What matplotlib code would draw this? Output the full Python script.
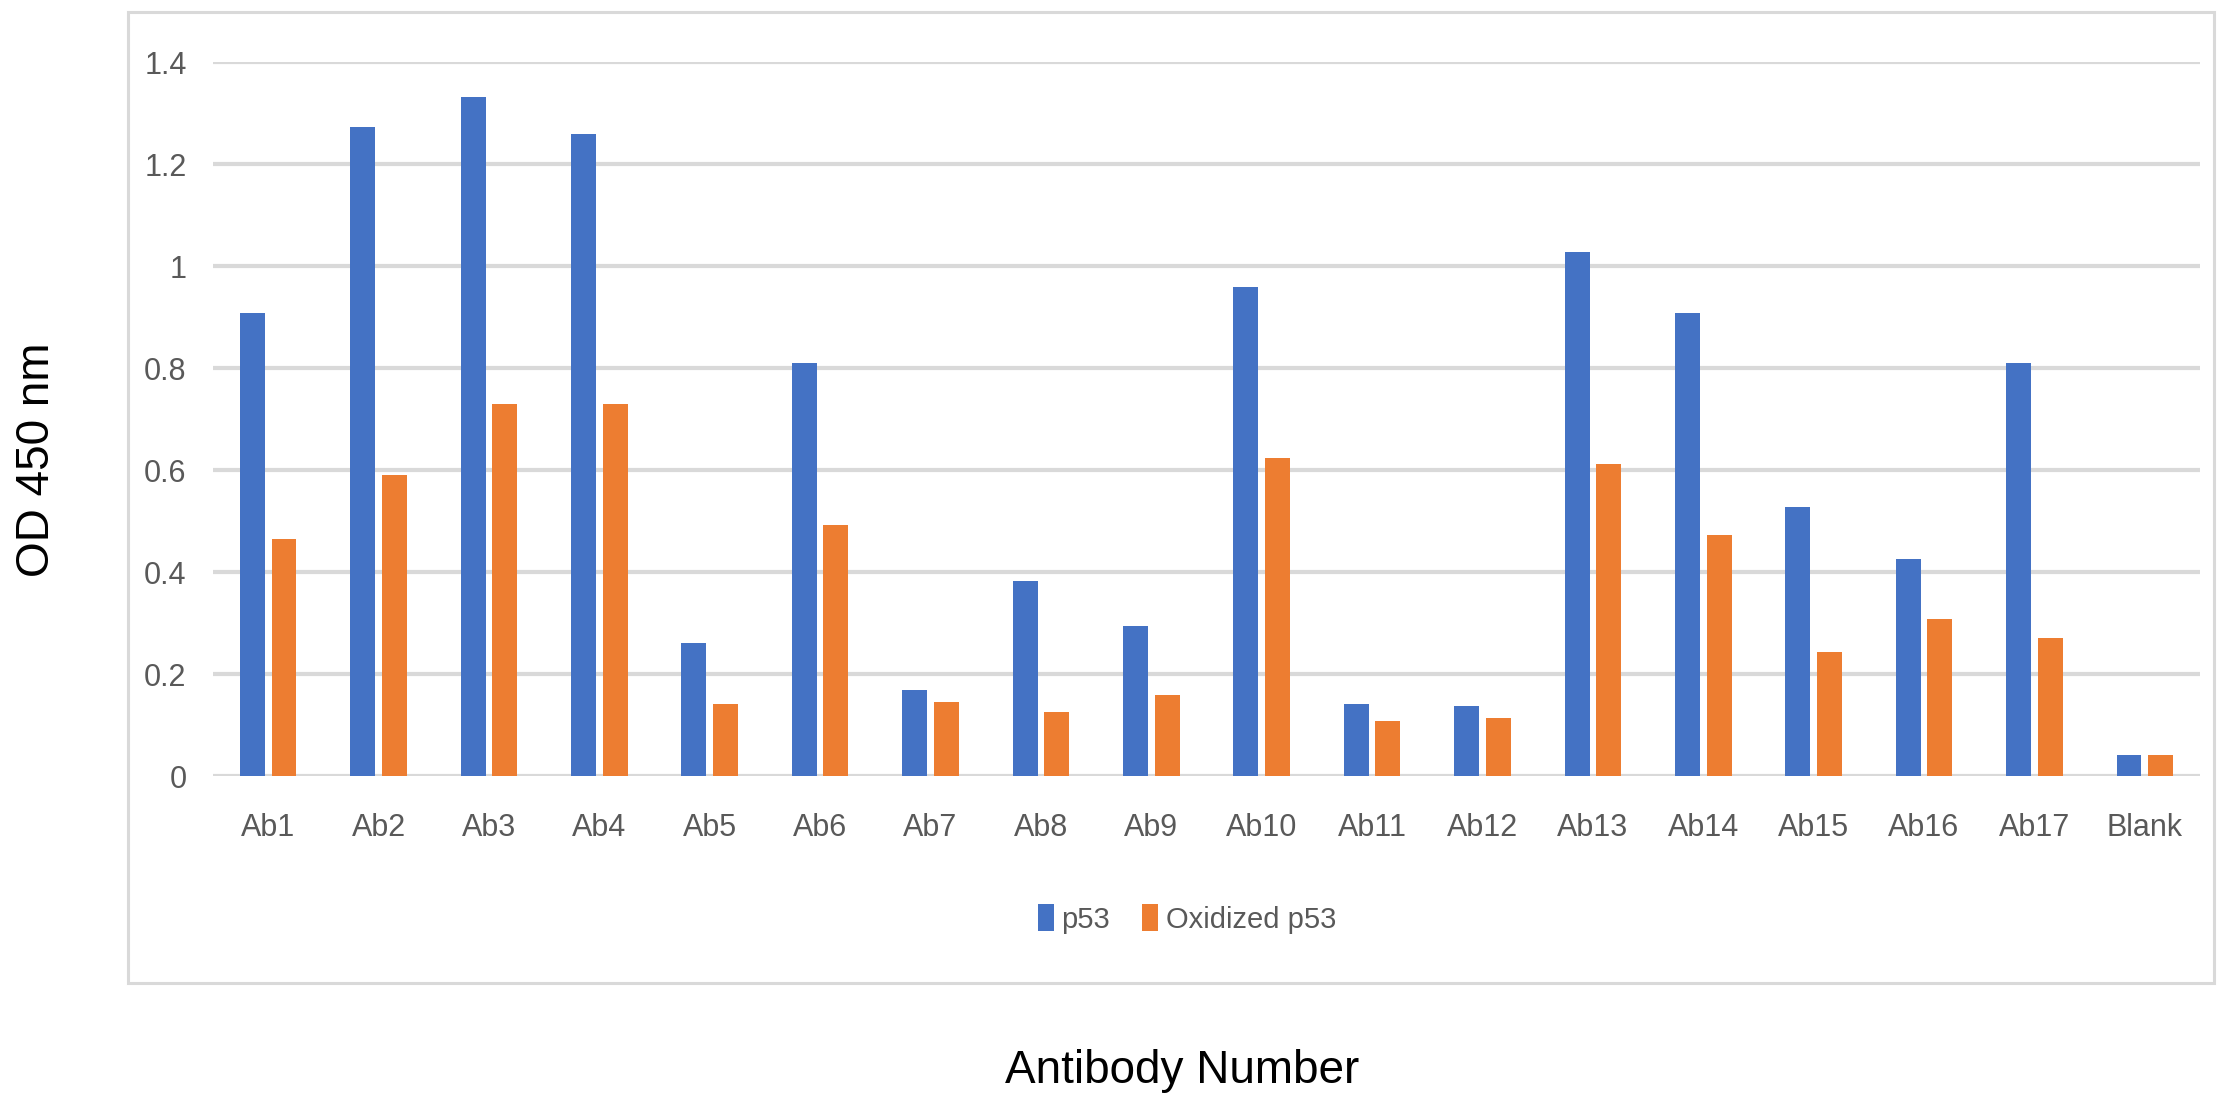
import matplotlib
matplotlib.use("Agg")
from matplotlib import pyplot as plt
from matplotlib import font_manager
from matplotlib.patches import Rectangle
import numpy as np

antibodies = ["Ab1", "Ab2", "Ab3", "Ab4", "Ab5", "Ab6", "Ab7", "Ab8", "Ab9",
              "Ab10", "Ab11", "Ab12", "Ab13", "Ab14", "Ab15", "Ab16", "Ab17", "Blank"]
p53 = [0.908, 1.272, 1.332, 1.259, 0.261, 0.81, 0.168, 0.383, 0.295,
       0.958, 0.142, 0.137, 1.027, 0.908, 0.527, 0.425, 0.81, 0.041]
oxidized_p53 = [0.465, 0.59, 0.73, 0.73, 0.142, 0.493, 0.146, 0.125, 0.159,
                0.624, 0.108, 0.113, 0.612, 0.472, 0.244, 0.307, 0.27, 0.041]
yticks = [0, 0.2, 0.4, 0.6, 0.8, 1, 1.2, 1.4]
ytick_labels = ["0", "0.2", "0.4", "0.6", "0.8", "1", "1.2", "1.4"]

names = {f.name for f in font_manager.fontManager.ttflist}
small_font = "Liberation Sans Narrow" if "Liberation Sans Narrow" in names else "Liberation Sans"
small_size = 25 if small_font == "Liberation Sans Narrow" else 22
big_font = "Liberation Sans"

fig = plt.figure(figsize=(22.18, 10.98), dpi=100)
# outer chart border
fig.patches.append(Rectangle((128 / 2218, 1 - 983 / 1098), (2214 - 128) / 2218, (983 - 12) / 1098,
                             transform=fig.transFigure, fill=False, edgecolor="#D9D9D9", linewidth=2.2))

ax = fig.add_axes([213 / 2218, 1 - 776 / 1098, 1987 / 2218, (776 - 62) / 1098])
x = np.arange(len(antibodies))
w = 0.226
gap = 0.06
ax.bar(x - (w + gap) / 2, p53, w, color="#4472C4", label="p53", zorder=3)
ax.bar(x + (w + gap) / 2, oxidized_p53, w, color="#ED7D31", label="Oxidized p53", zorder=3)

ax.set_xlim(-0.5, len(antibodies) - 0.5)
ax.set_ylim(0, 1.4)
ax.set_yticks(yticks)
ax.set_yticklabels(ytick_labels)
ax.set_xticks(x)
ax.set_xticklabels(antibodies)
ax.yaxis.grid(True, color="#D9D9D9", linewidth=3, zorder=0)
ax.set_axisbelow(True)
for s in ax.spines.values():
    s.set_visible(False)
ax.tick_params(axis="both", length=0, labelcolor="#595959", labelsize=small_size)
ax.tick_params(axis="y", pad=19)
ax.tick_params(axis="x", pad=27)
for lab in ax.get_xticklabels() + ax.get_yticklabels():
    lab.set_fontfamily(small_font)

leg = fig.legend(loc="center", bbox_to_anchor=(1187 / 2218, 1 - 919 / 1098), ncol=2, frameon=False,
                 handlelength=0.55, handleheight=1.0, handletextpad=0.25, columnspacing=1.1,
                 prop={"family": small_font, "size": small_size - 1})
for t in leg.get_texts():
    t.set_color("#595959")

fig.text(37 / 2218, 1 - 460 / 1098, "OD 450 nm", rotation=90, ha="center", va="center",
         fontsize=33, family=big_font, color="black")
fig.text(1182 / 2218, 1 - 1071 / 1098, "Antibody Number", ha="center", va="center",
         fontsize=33, family=big_font, color="black")

fig.savefig("out.png", dpi=100)
